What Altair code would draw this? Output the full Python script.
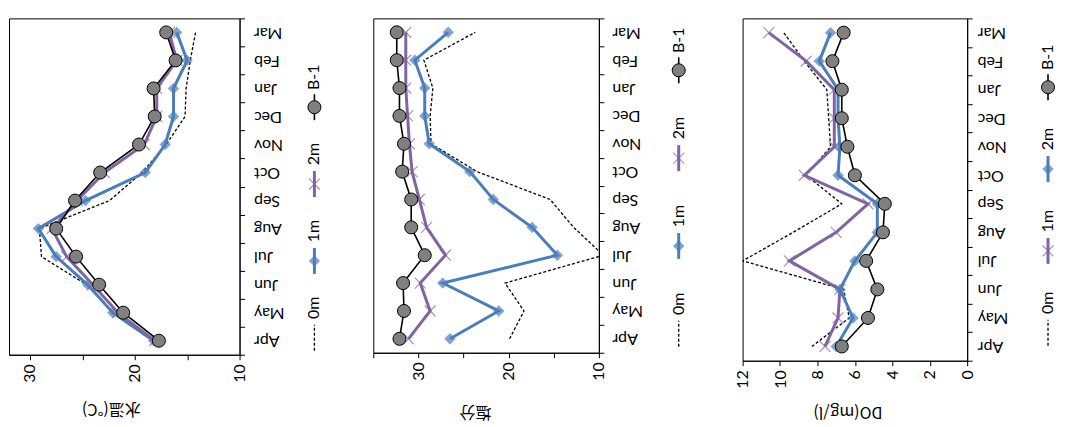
import altair as alt
import pandas as pd

months = ["Apr", "May", "Jun", "Jul", "Aug", "Sep", "Oct", "Nov", "Dec", "Jan", "Feb", "Mar"]
series_order = ["0m", "1m", "2m", "B-1"]

# 水温 (water temperature)
temp_0m = [18.3, 22.0, 24.6, 28.9, 29.1, 22.4, 19.3, 17.0, 15.2, 15.1, 14.7, 14.2]
temp_1m = [18.2, 22.1, 24.5, 27.5, 29.2, 24.7, 19.0, 17.1, 16.3, 16.3, 15.0, 16.0]
temp_2m = [18.1, 21.6, 24.0, 26.5, 27.9, 25.5, 22.9, 19.1, 17.9, 17.9, 16.0, 16.7]
temp_b1 = [17.7, 21.1, 23.4, 25.6, 27.5, 25.7, 23.3, 19.6, 18.1, 18.2, 16.1, 17.0]

# 塩分 (salinity)
sal_0m = [19.9, 18.3, 20.4, 9.5, 12.8, 15.4, 23.5, 28.6, 28.7, 28.4, 29.4, 23.7]
sal_1m = [26.5, 21.1, 27.3, 14.6, 17.4, 21.7, 24.3, 28.8, 29.3, 29.3, 30.4, 26.7]
sal_2m = [31.1, 28.7, 29.8, 27.0, 29.1, 29.9, 30.7, 31.0, 31.2, 31.4, 31.4, 31.4]
sal_b1 = [32.1, 31.6, 31.7, 29.3, 30.8, 30.8, 31.8, 31.6, 32.1, 32.1, 32.4, 32.4]

# DO (mg/l)
do_0m = [8.3, 6.3, 6.6, 12.0, 9.3, 6.7, 8.6, 7.3, 7.4, 7.5, 8.7, 9.8]
do_1m = [7.6, 6.9, 6.8, 9.5, 7.0, 5.3, 8.7, 7.1, 7.1, 7.1, 8.6, 10.6]
do_2m = [7.0, 6.1, 6.8, 6.0, 4.8, 4.8, 6.9, 6.8, 6.9, 6.9, 7.9, 7.3]
do_b1 = [6.7, 5.3, 4.8, 5.4, 4.5, 4.4, 6.0, 6.4, 6.7, 6.7, 7.2, 6.6]

FONT = "Lato"
CJK = "Noto Sans CJK JP"
BLUE = "#4A7EBB"
PURPLE = "#8064A2"
XPATH = "M-1,-1L1,1M-1,1L1,-1"

STYLE_DASH = dict(line=dict(color="black", strokeWidth=1.3, strokeDash=[3, 2]), point=None)
STYLE_BLUE = dict(line=dict(color=BLUE, strokeWidth=3),
                  point=dict(shape="diamond", filled=True, color=BLUE, size=130))
STYLE_PURPLE = dict(line=dict(color=PURPLE, strokeWidth=3),
                    point=dict(shape=XPATH, filled=False, color=PURPLE, size=120, strokeWidth=1.2))
STYLE_B1 = dict(line=dict(color="black", strokeWidth=1.6),
                point=dict(shape="circle", filled=True, fill="#808080", stroke="black",
                           strokeWidth=1, size=170, opacity=1))

TOP = 12


def panel(data, styles, xdomain, xticks, label_expr, width, height, title, label_pad, title_x, title_y):
    rows = []
    for s in series_order:
        for i, (m, v) in enumerate(zip(months, data[s])):
            rows.append(dict(series=s, month=m, idx=i, value=v))
    df = pd.DataFrame(rows)
    y = alt.Y("month:N", sort=months[::-1],
              scale=alt.Scale(type="band", paddingInner=0, paddingOuter=0),
              axis=alt.Axis(orient="right", tickBand="extent", labelAngle=180, labelAlign="right",
                            labelBaseline="middle", labelPadding=label_pad, tickSize=5, grid=False,
                            title=None, labelFont=FONT, labelFontSize=16))
    x = alt.X("value:Q", scale=alt.Scale(domain=xdomain, reverse=True, nice=False, zero=False),
              axis=alt.Axis(values=xticks, labelExpr=label_expr, labelAngle=270, labelAlign="right",
                            labelBaseline="middle", tickSize=5, grid=False, labelPadding=4,
                            labelFont=FONT, labelFontSize=16,
                            title=title, titleAngle=180, titleX=title_x, titleY=title_y,
                            titleAlign="center", titleBaseline="middle", titleFont=CJK,
                            titleFontSize=16, titleFontWeight="normal"))
    layers = []
    for s in series_order:
        st = styles[s]
        base = alt.Chart(df).transform_filter(alt.datum.series == s)
        layers.append(base.mark_line(clip=True, **st["line"]).encode(x=x, y=y, order="idx:Q"))
        if st["point"] is not None:
            layers.append(base.mark_point(clip=True, **st["point"]).encode(x=x, y=y))
    return alt.layer(*layers).properties(width=width, height=height)


def legend(styles, width, height, c0, spacing, lx):
    rows = []
    for i, s in enumerate(series_order):
        rows.append(dict(series=s, pos=i, lo=i - 13 / spacing, hi=i + 13 / spacing,
                         tpos=i + 30 / spacing, lx=lx))
    df = pd.DataFrame(rows)
    d1 = (c0 - TOP) / spacing
    d0 = d1 - height / spacing
    ys = alt.Scale(domain=[d0, d1], nice=False, zero=False)
    xs = alt.Scale(domain=[0, width], nice=False, zero=False)
    xenc = alt.X("lx:Q", scale=xs, axis=None)
    layers = []
    for s in series_order:
        st = styles[s]
        base = alt.Chart(df).transform_filter(alt.datum.series == s)
        layers.append(base.mark_rule(**st["line"]).encode(
            x=xenc, y=alt.Y("lo:Q", scale=ys, axis=None), y2="hi:Q"))
        if st["point"] is not None:
            layers.append(base.mark_point(**st["point"]).encode(
                x=xenc, y=alt.Y("pos:Q", scale=ys, axis=None)))
    layers.append(alt.Chart(df).mark_text(angle=270, align="center", baseline="middle",
                                          font=FONT, fontSize=16, color="black").encode(
        x=xenc, y=alt.Y("tpos:Q", scale=ys, axis=None), text="series:N"))
    return alt.layer(*layers).properties(width=width, height=height,
                                         view=alt.ViewBackground(stroke=None))


styles_a = {"0m": STYLE_DASH, "1m": STYLE_BLUE, "2m": STYLE_PURPLE, "B-1": STYLE_B1}
styles_b = {"0m": STYLE_DASH, "1m": STYLE_PURPLE, "2m": STYLE_BLUE, "B-1": STYLE_B1}

p1 = panel({"0m": temp_0m, "1m": temp_1m, "2m": temp_2m, "B-1": temp_b1}, styles_a,
           [10, 32], [10, 15, 20, 25, 30], "datum.value % 10 === 0 ? datum.label : ''",
           231, 337, "水温(°C)", 9, 102, 54)
l1 = legend(styles_a, 134, 337, 332, 77, 75)
p2 = panel({"0m": sal_0m, "1m": sal_1m, "2m": sal_2m, "B-1": sal_b1}, styles_a,
           [10, 35], [10, 15, 20, 25, 30, 35], "datum.value % 10 === 0 ? datum.label : ''",
           226, 335, "塩分", 8, 102, 59)
l2 = legend(styles_a, 144, 335, 328, 88, 80)
p3 = panel({"0m": do_0m, "1m": do_1m, "2m": do_2m, "B-1": do_b1}, styles_b,
           [0, 12], [0, 2, 4, 6, 8, 10, 12], "datum.label",
           225, 343, "DO(mg/l)", 5, 105, 51)
l3 = legend(styles_b, 85, 343, 327, 82, 81)

chart = alt.hconcat(p1, l1, p2, l2, p3, l3, spacing=0, bounds="flush").properties(
    padding={"left": 0, "top": 1, "right": 0, "bottom": 8}
).configure_view(stroke="black", strokeWidth=1).configure_axis(
    domainColor="black", tickColor="black", labelColor="black", titleColor="black"
)

chart.save("out.html", embed_options={"renderer": "svg", "actions": False})
